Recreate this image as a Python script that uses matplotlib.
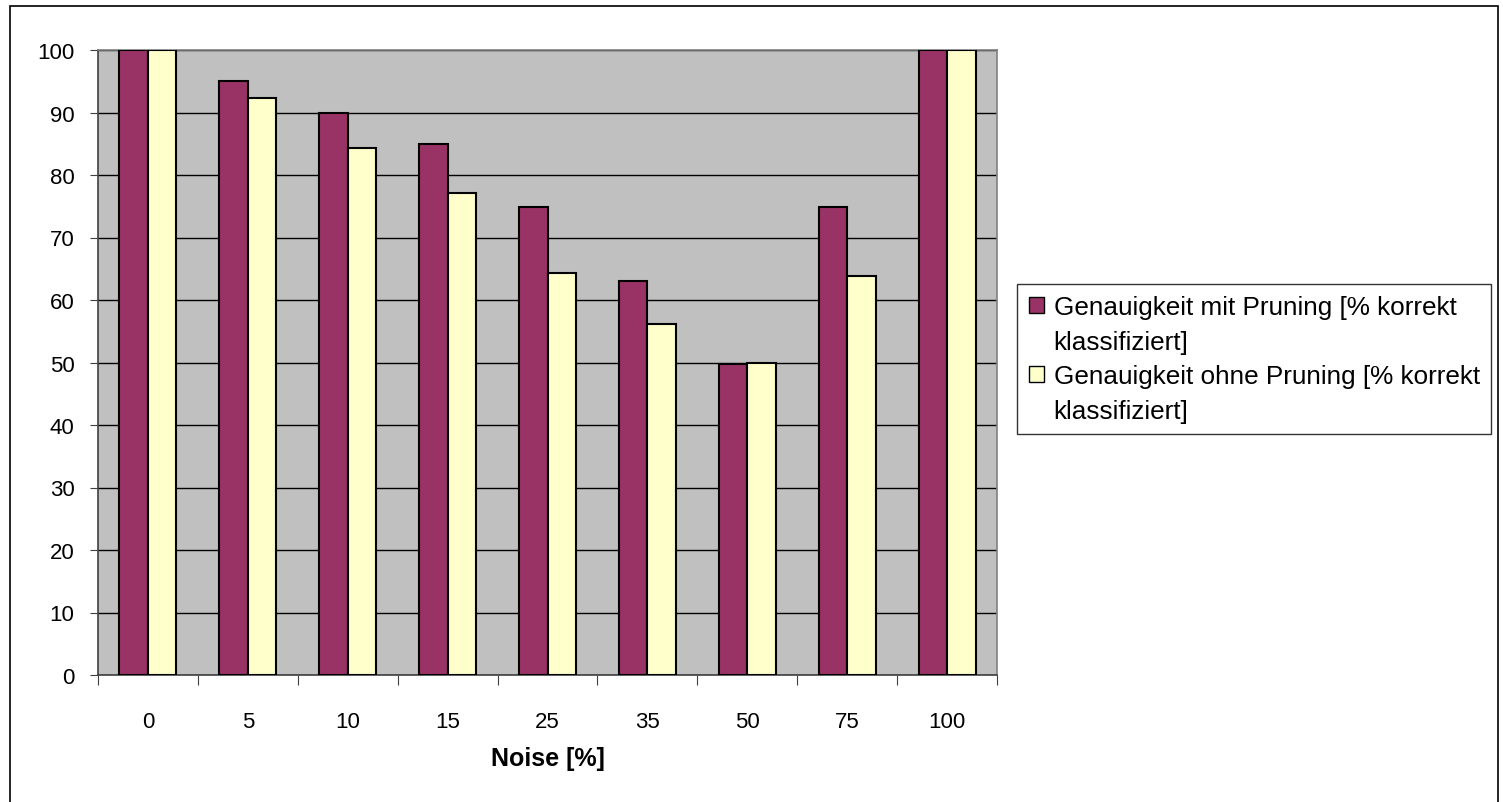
import numpy as np
import matplotlib.pyplot as plt
from matplotlib.patches import Rectangle, Patch

noise_levels = ["0", "5", "10", "15", "25", "35", "50", "75", "100"]
mit_pruning = [100, 95.1, 90, 84.9, 74.9, 63.1, 49.7, 74.9, 100]
ohne_pruning = [100, 92.4, 84.3, 77.2, 64.4, 56.2, 50, 63.8, 100]
legend_lines = ["Genauigkeit mit Pruning [% korrekt", "klassifiziert]",
                "Genauigkeit ohne Pruning [% korrekt", "klassifiziert]"]
y_ticks = list(range(0, 101, 10))

plt.rcParams['font.family'] = ['Liberation Sans', 'DejaVu Sans']

fig = plt.figure(figsize=(15.03, 8.03), dpi=100)
ax = fig.add_axes([98/1503, 127/803, (997-98)/1503, (676-51)/803])
ax.set_facecolor("#c0c0c0")

x = np.arange(len(noise_levels))
w = 1/3.5
b1 = ax.bar(x - w/2, mit_pruning, w, color="#993366", edgecolor="black", linewidth=1.5, zorder=3)
b2 = ax.bar(x + w/2, ohne_pruning, w, color="#ffffcc", edgecolor="black", linewidth=1.5, zorder=3)

ax.set_xlim(-0.5, len(noise_levels) - 0.5)
ax.set_ylim(0, 100)
ax.set_yticks(y_ticks)
ax.yaxis.grid(True, color="black", linewidth=1, zorder=1)
ax.set_axisbelow(True)

# ticks between the groups, labels in the middle
ax.set_xticks(np.arange(len(noise_levels) + 1) - 0.5)
ax.set_xticklabels([])
ax.set_xticks(x, minor=True)
ax.set_xticklabels(noise_levels, minor=True)
ax.tick_params(axis="x", which="major", length=7, color="#404040", direction="out")
ax.tick_params(axis="x", which="minor", length=0, pad=26, labelsize=16)
ax.tick_params(axis="y", length=6, color="#404040", pad=11, labelsize=16)

for s in ["left", "bottom"]:
    ax.spines[s].set_color("#404040")
    ax.spines[s].set_linewidth(1.2)
for s in ["top", "right"]:
    ax.spines[s].set_color("#808080")
    ax.spines[s].set_linewidth(1.2)

ax.set_xlabel("Noise [%]", fontsize=18, fontweight="bold", labelpad=10)

# legend: wrapped second line gets an invisible handle so the square sits on the first line
blank = Patch(facecolor="none", edgecolor="none")
handles = [Patch(facecolor="#993366", edgecolor="black"), blank,
           Patch(facecolor="#ffffcc", edgecolor="black"), blank]
leg = fig.legend(handles, legend_lines, loc="center left",
                 bbox_to_anchor=(1017/1503, (803-360)/803),
                 fontsize=18.8, frameon=True, fancybox=False, edgecolor="black",
                 handlelength=0.57, handleheight=0.57, handletextpad=0.38,
                 labelspacing=0.4, borderpad=0.45, borderaxespad=0)
leg.get_frame().set_linewidth(1)

# outer chart border
fig.patches.append(Rectangle((10/1503, -0.02), (1498-10)/1503, (796/803) + 0.02,
                             transform=fig.transFigure, fill=False, edgecolor="black",
                             linewidth=1.2))

fig.savefig("out.png", dpi=100)
